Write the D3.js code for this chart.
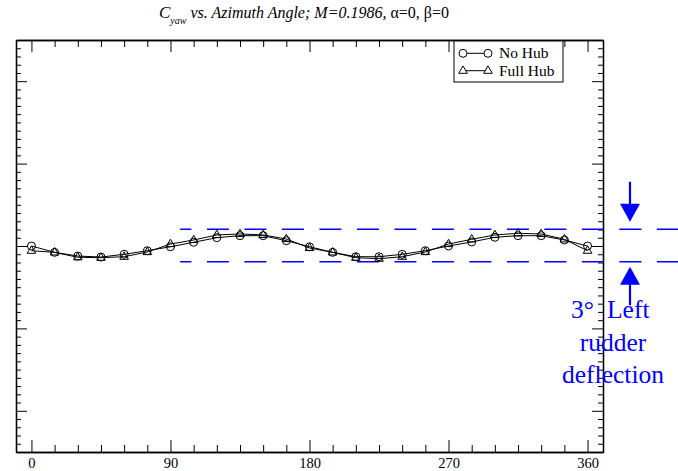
<!DOCTYPE html>
<html>
<head>
<meta charset="utf-8">
<script src="https://cdn.jsdelivr.net/npm/d3@7"></script>
<style>
  html, body { margin: 0; padding: 0; background: #fff; }
  svg { display: block; }
  text { font-family: "Liberation Serif", "Times New Roman", serif; }
</style>
</head>
<body>
<script>
// ---- data ----
const azimuth = [0, 15, 30, 45, 60, 75, 90, 105, 120, 135, 150, 165, 180,
                 195, 210, 225, 240, 255, 270, 285, 300, 315, 330, 345, 360];
const noHub = [0.0000, -0.00077, -0.00122, -0.00134, -0.00101, -0.00057, -0.00009, 0.00045,
               0.00101, 0.00125, 0.00125, 0.00064, -0.00009, -0.00077, -0.0013, -0.0013,
               -0.00101, -0.00057, 0.0000, 0.00049, 0.00106, 0.00125, 0.00125, 0.00073, 0.0000];
const fullHub = [-0.00057, -0.00077, -0.00137, -0.00142, -0.0013, -0.00073, 0.00024, 0.00073,
                 0.00134, 0.00146, 0.00134, 0.00085, -0.00024, -0.00077, -0.00142, -0.00154,
                 -0.0013, -0.00073, 0.00024, 0.00081, 0.00134, 0.00154, 0.00146, 0.00081, -0.00057];
const rudderBand = [0.00203, -0.00191];
const xMajorTicks = [0, 90, 180, 270, 360];
const xMinorTicks = [15, 30, 45, 60, 75, 105, 120, 135, 150, 165, 195, 210, 225, 240, 255, 285, 300, 315, 330, 345];
const yMajorTicks = [-0.02, -0.01, 0, 0.01, 0.02];
const seriesNames = ["No Hub", "Full Hub"];
const annotationLines = ["rudder", "deflection"];

// ---- layout ----
const W = 678, H = 471;
const svg = d3.select("body").append("svg").attr("width", W).attr("height", H);

const x = d3.scaleLinear().domain([-10, 370]).range([16, 603]);
const y = d3.scaleLinear().domain([-0.025, 0.025]).range([452, 40]);

const yMinorTicks = d3.range(-24, 25).map(v => v / 1000).filter(v => Math.abs(Math.round(v * 1000)) % 10 !== 0);

function styleAxis(g) {
  g.selectAll("path.domain").attr("stroke", "#000").attr("stroke-width", 1.3);
  g.selectAll(".tick line").attr("stroke", "#000").attr("stroke-width", 1);
}

// bottom axis
const gB = svg.append("g").attr("transform", `translate(0,${y.range()[0]})`);
gB.call(d3.axisBottom(x).tickValues(xMajorTicks).tickSizeInner(-12).tickSizeOuter(0).tickPadding(5.5).tickFormat(d3.format("d")))
  .call(styleAxis);
gB.selectAll("text").attr("font-size", 14.5).attr("fill", "#000").attr("font-family", "Liberation Serif");
const gB2 = svg.append("g").attr("transform", `translate(0,${y.range()[0]})`);
gB2.call(d3.axisBottom(x).tickValues(xMinorTicks).tickSizeInner(-7).tickSizeOuter(0).tickFormat(""))
  .call(styleAxis);

// top axis
const gT = svg.append("g").attr("transform", `translate(0,${y.range()[1]})`);
gT.call(d3.axisTop(x).tickValues(xMajorTicks).tickSizeInner(-12).tickSizeOuter(0).tickFormat("")).call(styleAxis);
const gT2 = svg.append("g").attr("transform", `translate(0,${y.range()[1]})`);
gT2.call(d3.axisTop(x).tickValues(xMinorTicks).tickSizeInner(-7).tickSizeOuter(0).tickFormat("")).call(styleAxis);

// left axis
const gL = svg.append("g").attr("transform", `translate(${x.range()[0]},0)`);
gL.call(d3.axisLeft(y).tickValues(yMajorTicks).tickSizeInner(-11).tickSizeOuter(0).tickFormat("")).call(styleAxis);
const gL2 = svg.append("g").attr("transform", `translate(${x.range()[0]},0)`);
gL2.call(d3.axisLeft(y).tickValues(yMinorTicks).tickSizeInner(-5).tickSizeOuter(0).tickFormat("")).call(styleAxis);

// right axis
const gR = svg.append("g").attr("transform", `translate(${x.range()[1]},0)`);
gR.call(d3.axisRight(y).tickValues(yMajorTicks).tickSizeInner(-11).tickSizeOuter(0).tickFormat("")).call(styleAxis);
const gR2 = svg.append("g").attr("transform", `translate(${x.range()[1]},0)`);
gR2.call(d3.axisRight(y).tickValues(yMinorTicks).tickSizeInner(-5).tickSizeOuter(0).tickFormat("")).call(styleAxis);

// rudder band dashed lines
const bandStart = x(96.3);
rudderBand.forEach(v => {
  svg.append("line")
    .attr("x1", bandStart).attr("x2", W)
    .attr("y1", y(v)).attr("y2", y(v))
    .attr("stroke", "#0000ff").attr("stroke-width", 1.3)
    .attr("stroke-dasharray", "22,15.5").attr("stroke-dashoffset", 10.8);
});

// arrows
const arrowX = 630;
const blue = "#0000ff";
const topY = y(rudderBand[0]) - 7.5;
svg.append("line").attr("x1", arrowX).attr("x2", arrowX).attr("y1", topY - 40).attr("y2", topY - 15)
  .attr("stroke", blue).attr("stroke-width", 2.2);
svg.append("path").attr("d", `M${arrowX - 10},${topY - 18} L${arrowX + 10},${topY - 18} L${arrowX},${topY} Z`).attr("fill", blue);
const botY = y(rudderBand[1]) + 5;
svg.append("line").attr("x1", arrowX).attr("x2", arrowX).attr("y1", botY + 15).attr("y2", botY + 38.5)
  .attr("stroke", blue).attr("stroke-width", 2.2);
svg.append("path").attr("d", `M${arrowX - 10},${botY + 18} L${arrowX + 10},${botY + 18} L${arrowX},${botY} Z`).attr("fill", blue);

// annotation text
const first = svg.append("text").attr("y", 318).attr("font-size", 25.5).attr("fill", blue);
first.append("tspan").attr("x", 571).text("3\u00B0");
first.append("tspan").attr("x", 607).text("Left");
annotationLines.forEach((t, i) => {
  svg.append("text").attr("x", 613).attr("y", 318 + (i + 1) * 32.6)
    .attr("text-anchor", "middle").attr("font-size", 25.5).attr("fill", blue).text(t);
});

// series
const line = d3.line().x(d => x(d[0])).y(d => y(d[1]));
const dataNo = azimuth.map((a, i) => [a, noHub[i]]);
const dataFull = azimuth.map((a, i) => [a, fullHub[i]]);

svg.append("path").datum(dataNo).attr("d", line).attr("fill", "none").attr("stroke", "#000").attr("stroke-width", 1);
svg.append("path").datum(dataFull).attr("d", line).attr("fill", "none").attr("stroke", "#000").attr("stroke-width", 1);

const triPath = (cx, cy) => `M${cx - 4.3},${cy + 2.6} L${cx + 4.3},${cy + 2.6} L${cx},${cy - 4.8} Z`;

svg.append("g").selectAll("path").data(dataFull).join("path")
  .attr("d", d => triPath(x(d[0]), y(d[1])))
  .attr("fill", "none").attr("stroke", "#000").attr("stroke-width", 1);
svg.append("g").selectAll("circle").data(dataNo).join("circle")
  .attr("cx", d => x(d[0])).attr("cy", d => y(d[1])).attr("r", 4)
  .attr("fill", "none").attr("stroke", "#000").attr("stroke-width", 1);

// legend
const lg = svg.append("g");
lg.append("rect").attr("x", 454).attr("y", 41).attr("width", 109).attr("height", 41)
  .attr("fill", "#fff").attr("stroke", "#000").attr("stroke-width", 1);
const rows = [53.3, 70.7];
seriesNames.forEach((name, i) => {
  const ry = rows[i];
  lg.append("line").attr("x1", 463).attr("x2", 488).attr("y1", ry).attr("y2", ry).attr("stroke", "#000").attr("stroke-width", 1);
  [463, 488].forEach(mx => {
    if (i === 0) {
      lg.append("circle").attr("cx", mx).attr("cy", ry).attr("r", 4).attr("fill", "#fff").attr("stroke", "#000").attr("stroke-width", 1);
    } else {
      lg.append("path").attr("d", triPath(mx, ry)).attr("fill", "#fff").attr("stroke", "#000").attr("stroke-width", 1);
    }
  });
  lg.append("text").attr("x", 499).attr("y", ry + 5).attr("font-size", 15.5).attr("fill", "#000").text(name);
});

// title
const title = svg.append("text").attr("x", 159).attr("y", 18.3).attr("font-size", 16).attr("fill", "#000");
title.append("tspan").attr("font-style", "italic").attr("font-size", 17).text("C");
title.append("tspan").attr("font-style", "italic").attr("font-size", 10).attr("dy", 5.5).text("yaw");
title.append("tspan").attr("font-style", "italic").attr("dy", -5.5).text(" vs. Azimuth Angle; M=0.1986, ");
title.append("tspan").text("\u03B1=0, \u03B2=0");
</script>
</body>
</html>
